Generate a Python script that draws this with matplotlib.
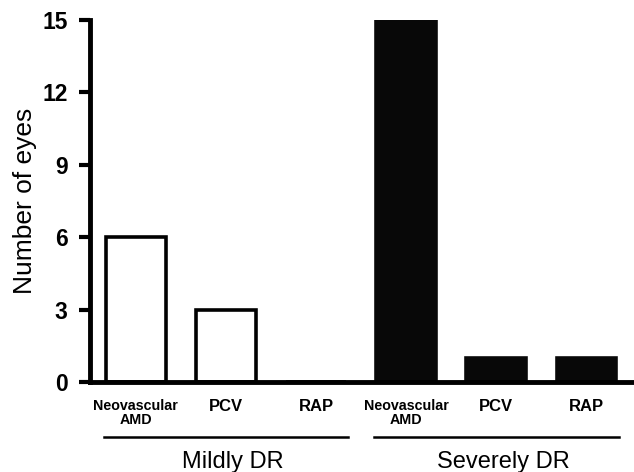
import numpy as np
import matplotlib.pyplot as plt

plt.rcParams['font.family'] = ['Liberation Sans', 'DejaVu Sans']

# data
groups = ['Mildly DR', 'Severely DR']
categories = ['Neovascular\nAMD', 'PCV', 'RAP']
mild_counts = [6, 3, 0]
severe_counts = [15, 1, 1]
yticks = [0, 3, 6, 9, 12, 15]

fig = plt.figure(figsize=(6.34, 4.72), dpi=100)
ax = fig.add_axes([90 / 634, 90 / 472, 1 - 90 / 634, 362 / 472])

x_mild = np.arange(3)
x_severe = np.arange(3) + 3
w = 0.66

ax.bar(x_mild, mild_counts, width=w, color='white', edgecolor='black', linewidth=2.6, zorder=2)
ax.bar(x_severe, severe_counts, width=w, color='#080808', edgecolor='#080808', linewidth=2.6, zorder=2)

ax.set_xlim(-0.51, 5.53)
ax.set_ylim(0, 15)
ax.set_yticks(yticks)
ax.set_yticklabels([str(t) for t in yticks], fontsize=16.5, fontweight='bold')

ax.set_xticks(np.concatenate([x_mild, x_severe]))
ax.set_xticklabels(categories * 2, fontweight='bold')
for lab in ax.get_xticklabels():
    lab.set_fontsize(10.3 if 'AMD' in lab.get_text() else 12)
    lab.set_linespacing(1.05)

ax.tick_params(axis='x', length=0, pad=12)
ax.tick_params(axis='y', length=8, width=3.0, direction='out', pad=8)

for s in ['top', 'right']:
    ax.spines[s].set_visible(False)
ax.spines['left'].set_linewidth(3.5)
ax.spines['bottom'].set_linewidth(3.5)
ax.spines['bottom'].set_zorder(3)

ax.set_ylabel('Number of eyes', fontsize=19, labelpad=4)

# group lines and labels under the axis
xt = ax.get_xaxis_transform()
for i, g in enumerate(groups):
    x0 = 3 * i - 0.36
    x1 = 3 * i + 2.36
    ax.plot([x0, x1], [-0.152, -0.152], color='black', linewidth=1.8, transform=xt, clip_on=False)
    ax.text(3 * i + 1.08, -0.222, g, fontsize=17, ha='center', va='center', transform=xt)

fig.savefig('out.png', dpi=100)
